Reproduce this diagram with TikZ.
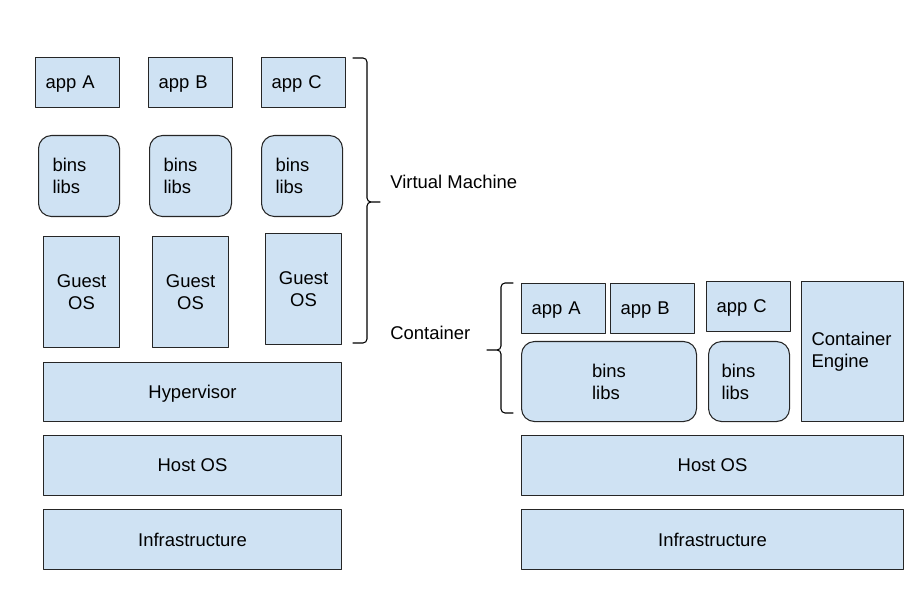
\documentclass[tikz,border=0pt]{standalone}
\usepackage{fontspec}
\setmainfont{Liberation Sans}
\definecolor{boxblue}{HTML}{CFE2F3}
\newlength\pxl \pxl=0.02cm
\tikzset{
	box/.style={draw=black!85,fill=boxblue,line width=.6pt,anchor=north west,inner ysep=0pt},
	dz/.style={text depth=0pt},
	nz/.style={},
	brc/.style={line width=.6pt,rounded corners=4\pxl},
	lbl/.style={anchor=west,inner sep=0pt}
}
\begin{document}
\begin{tikzpicture}[x=1\pxl,y=-1\pxl,line join=round,line cap=round,font=\fontsize{10.5}{12.6}\selectfont]
	\useasboundingbox (0,0) rectangle (922,597);
	% boxes with text on the left
	\foreach \n/\x/\y/\w/\h/\p/\r/\s/\t in {vmappA/35/57/84/50/10/0/dz/app A,vmappB/148/57/84/50/10/0/dz/app B,
		vmappC/261/57/84/50/10/0/dz/app C,vmbinsA/38/135/81/81/14/13/nz/{bins\\libs},
		vmbinsB/149/135/82/81/14/13/nz/{bins\\libs},vmbinsC/261/135/81/81/14/13/nz/{bins\\libs},
		ctappA/521/283/84/50/10/0/dz/app A,ctappB/610/283/84/50/10/0/dz/app B,ctappC/706/281/84/50/10/0/dz/app C,
		ctbinsB/708/341/81/80/13/13/nz/{bins\\libs},ctengine/801/281/102/140/10/0/nz/{Container\\Engine}}
	{\pgfmathsetmacro\tw{\w-2*\p}
		\node[box,\s,rounded corners=\r\pxl,text width=\tw\pxl,inner xsep=\p\pxl,minimum height=\h\pxl,align=left] (\n) at (\x,\y) {\t};}
	% boxes with centred text
	\foreach \n/\x/\y/\w/\h/\s/\t in {guestA/43/236/76/111/nz/{Guest\\OS},guestB/152/236/76/111/nz/{Guest\\OS},
		guestC/265/233/76/111/nz/{Guest\\OS},hyper/43/362/298/59/dz/Hypervisor,vmhost/43/435/298/60/dz/Host OS,
		vminfra/43/509/298/60/dz/Infrastructure,cthost/521/435/382/60/dz/Host OS,ctinfra/521/509/382/60/dz/Infrastructure}
	{\node[box,\s,inner xsep=0pt,minimum width=\w\pxl,minimum height=\h\pxl,align=center] (\n) at (\x,\y) {\t};}
	\node[box,rounded corners=13\pxl,minimum width=175\pxl,minimum height=80\pxl,align=left] (ctbinsA) at (521,341) {bins\\libs};
	% braces
	\coordinate (vmtop) at (353,58); \coordinate (vmbot) at (353,343);
	\coordinate (vmmid) at (367,202); \coordinate (vmtip) at (380,202);
	\coordinate (cttop) at (513,283); \coordinate (ctbot) at (513,413);
	\coordinate (ctmid) at (501,350); \coordinate (cttip) at (487,350);
	\draw[brc] (vmtop) -| (vmmid) -- (vmtip) (vmbot) -| (vmmid) -- (vmtip);
	\draw[brc] (cttop) -| (ctmid) -- (cttip) (ctbot) -| (ctmid) -- (cttip);
	\node[lbl] (vmlabel) at (390,182) {Virtual Machine};
	\node[lbl] (ctlabel) at (390,333) {Container};
\end{tikzpicture}
\end{document}
